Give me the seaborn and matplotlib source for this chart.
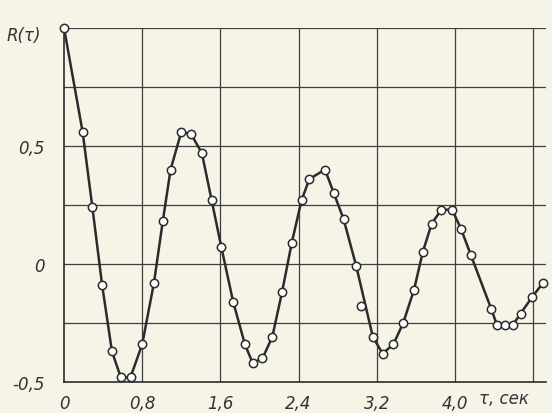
#Autocorrelation function R(tau) - recreation of a scanned chart
import matplotlib
matplotlib.use("Agg")
import matplotlib.pyplot as plt
import seaborn as sns
import pandas as pd

#Step 1: values
tau = [0.0, 0.19, 0.29, 0.39, 0.49, 0.58, 0.68, 0.80, 0.92, 1.01,
       1.09, 1.20, 1.30, 1.41, 1.51, 1.61, 1.73, 1.85, 1.93, 2.03,
       2.13, 2.23, 2.33, 2.43, 2.51, 2.67, 2.76, 2.86, 2.99, 3.16,
       3.26, 3.37, 3.47, 3.58, 3.67, 3.76, 3.86, 3.97, 4.06, 4.16,
       4.37, 4.43, 4.51, 4.59, 4.67, 4.79, 4.90]
r_tau = [1.00, 0.56, 0.24, -0.09, -0.37, -0.48, -0.48, -0.34, -0.08, 0.18,
         0.40, 0.56, 0.55, 0.47, 0.27, 0.07, -0.16, -0.34, -0.42, -0.40,
         -0.31, -0.12, 0.09, 0.27, 0.36, 0.40, 0.30, 0.19, -0.01, -0.31,
         -0.38, -0.34, -0.25, -0.11, 0.05, 0.17, 0.23, 0.23, 0.15, 0.04,
         -0.19, -0.26, -0.26, -0.26, -0.21, -0.14, -0.08]
# one measured point that lies off the drawn curve
tau_off = [3.04]
r_off = [-0.18]

x_ticks = [0, 0.8, 1.6, 2.4, 3.2, 4.0]
x_tick_labels = ["0", "0,8", "1,6", "2,4", "3,2", "4,0"]
y_ticks = [-0.5, 0, 0.5]
y_tick_labels = ["-0,5", "0", "0,5"]

df = pd.DataFrame({"tau": tau, "R": r_tau})
df_off = pd.DataFrame({"tau": tau_off, "R": r_off})

#Step 2: style - old paper look
paper = "#f6f4e6"
ink = "#2b2b2b"
sns.set_style("white", {"axes.facecolor": paper, "figure.facecolor": paper})
plt.rcParams["font.family"] = ["Liberation Sans Narrow", "DejaVu Sans"]

fig = plt.figure(figsize=(5.52, 4.14), dpi=100)
ax = fig.add_axes([0.116, 0.075, 0.873, 0.855])

#Step 3: the curve with open circle markers
sns.lineplot(data=df, x="tau", y="R", ax=ax, color=ink, linewidth=1.8,
             marker="o", markersize=6, markerfacecolor="white",
             markeredgecolor=ink, markeredgewidth=1.1, zorder=3, clip_on=False)
sns.scatterplot(data=df_off, x="tau", y="R", ax=ax, s=36, color="white",
                edgecolor=ink, linewidth=1.1, zorder=3)

#Step 4: grid every 0.8 s and every 0.25
ax.set_xlim(0, 4.93)
ax.set_ylim(-0.5, 1.0)
for gx in [0.8, 1.6, 2.4, 3.2, 4.0, 4.8]:
    ax.axvline(gx, color="#3f3f3f", linewidth=0.9, zorder=1)
for gy in [-0.25, 0, 0.25, 0.5, 0.75, 1.0]:
    ax.axhline(gy, color="#3f3f3f", linewidth=0.9, zorder=1)

for side in ["top", "right"]:
    ax.spines[side].set_visible(False)
for side in ["left", "bottom"]:
    ax.spines[side].set_color(ink)
    ax.spines[side].set_linewidth(1.2)

ax.set_xticks(x_ticks)
ax.set_xticklabels(x_tick_labels, fontstyle="italic", fontsize=12, color="#333333")
ax.set_yticks(y_ticks)
ax.set_yticklabels(y_tick_labels, fontstyle="italic", fontsize=12, color="#333333")
ax.tick_params(axis="x", length=0, pad=9)
ax.tick_params(axis="y", length=0, pad=14)
ax.set_xlabel("")
ax.set_ylabel("")

#Step 5: axis names
fig.text(0.012, 0.9, "R(τ)", fontstyle="italic", fontsize=12, color="#333333")
ax.text(4.25, -0.57, "τ, сек", fontstyle="italic", fontsize=12,
        color="#333333", va="center", ha="left")

fig.savefig("out.png", dpi=100, facecolor=paper)
